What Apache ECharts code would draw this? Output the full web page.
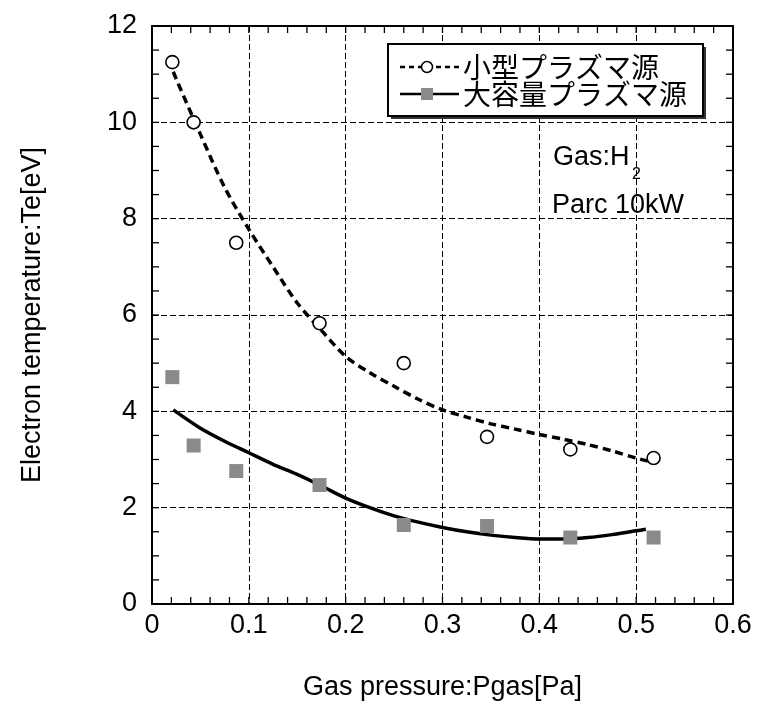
<!DOCTYPE html>
<html><head><meta charset="utf-8">
<script src="https://cdn.jsdelivr.net/npm/echarts@6/dist/echarts.min.js"></script>
<style>html,body{margin:0;padding:0;background:#fff}#c{width:758px;height:706px}</style>
</head><body><div id="c"></div>
<script>
// Measured data
const pressure = [0.021, 0.043, 0.087, 0.173, 0.26, 0.346, 0.432, 0.518];
const smallSource = [11.25, 10.0, 7.5, 5.83, 5.0, 3.47, 3.21, 3.03];
const largeSource = [4.71, 3.29, 2.76, 2.47, 1.64, 1.62, 1.38, 1.38];
// Fitted curves
const fitSmallX = [0.022, 0.025, 0.05, 0.075, 0.1, 0.125, 0.15, 0.175, 0.2, 0.225, 0.25, 0.275, 0.3, 0.325, 0.35, 0.375, 0.4, 0.425, 0.45, 0.475, 0.5, 0.512];
const fitSmallY = [11.05, 10.9, 9.75, 8.65, 7.78, 7.0, 6.25, 5.68, 5.14, 4.8, 4.52, 4.25, 4.03, 3.88, 3.74, 3.63, 3.52, 3.42, 3.31, 3.18, 3.03, 2.97];
const fitLargeX = [0.022, 0.05, 0.075, 0.1, 0.125, 0.15, 0.175, 0.2, 0.225, 0.25, 0.275, 0.3, 0.325, 0.35, 0.375, 0.4, 0.425, 0.45, 0.475, 0.5, 0.51];
const fitLargeY = [4.03, 3.65, 3.38, 3.14, 2.9, 2.69, 2.45, 2.2, 2.0, 1.83, 1.7, 1.59, 1.5, 1.43, 1.38, 1.35, 1.35, 1.38, 1.44, 1.52, 1.55];
const seriesNames = ['小型プラズマ源', '大容量プラズマ源'];
const xTitle = 'Gas pressure:Pgas[Pa]';
const yTitle = 'Electron temperature:Te[eV]';
// Tick positions (axis values)
const xTickValues = [0, 0.02, 0.04, 0.06, 0.08, 0.1, 0.12, 0.14, 0.16, 0.18, 0.2, 0.22, 0.24, 0.26, 0.28, 0.3,
  0.32, 0.34, 0.36, 0.38, 0.4, 0.42, 0.44, 0.46, 0.48, 0.5, 0.52, 0.54, 0.56, 0.58, 0.6];
const yTickValues = [0, 0.5, 1, 1.5, 2, 2.5, 3, 3.5, 4, 4.5, 5, 5.5, 6, 6.5, 7, 7.5, 8, 8.5, 9, 9.5, 10, 10.5, 11, 11.5, 12];

const zip = (a, b) => a.map((v, i) => [v, b[i]]);
const latin = 'Liberation Sans, Arial, sans-serif';
const cjk = 'Noto Sans CJK JP, sans-serif';
const TICK_LEN = 7;

const chart = echarts.init(document.getElementById('c'), null, {renderer: 'canvas'});
const line = () => ({show: true, onZero: false, lineStyle: {color: '#000', width: 2}});
const gridLine = () => ({show: true, lineStyle: {color: '#000', type: [6, 3], width: 1}});
chart.setOption({
  animation: false,
  backgroundColor: '#fff',
  grid: {left: 152, right: 25, top: 26, bottom: 101, show: false},
  xAxis: [
    {type: 'value', min: 0, max: 0.6, interval: 0.1, position: 'bottom',
      axisLine: line(), axisTick: {show: false},
      axisLabel: {color: '#000', fontFamily: latin, fontSize: 27, margin: 8,
        formatter: v => v === 0 ? '0' : String(Math.round(v * 10) / 10)},
      splitLine: gridLine(),
      name: xTitle, nameLocation: 'middle', nameGap: 70,
      nameTextStyle: {color: '#000', fontFamily: latin, fontSize: 27}},
    {type: 'value', min: 0, max: 0.6, interval: 0.1, position: 'top',
      axisLine: line(), axisTick: {show: false},
      axisLabel: {show: false}, splitLine: {show: false}}
  ],
  yAxis: [
    {type: 'value', min: 0, max: 12, interval: 2, position: 'left',
      axisLine: line(), axisTick: {show: false},
      axisLabel: {color: '#000', fontFamily: latin, fontSize: 27, margin: 15},
      splitLine: gridLine(),
      name: yTitle, nameLocation: 'middle', nameGap: 106, nameRotate: 90,
      nameTextStyle: {color: '#000', fontFamily: latin, fontSize: 27}},
    {type: 'value', min: 0, max: 12, interval: 2, position: 'right',
      axisLine: line(), axisTick: {show: false},
      axisLabel: {show: false}, splitLine: {show: false}}
  ],
  series: [
    {type: 'custom', name: 'xticks', silent: true, clip: false, z: 5,
      data: xTickValues.map(v => [v, 0]),
      renderItem: (params, api) => {
        const cs = params.coordSys;
        const x = api.coord([api.value(0), 0])[0];
        const yb = cs.y + cs.height, yt = cs.y;
        const st = {stroke: '#000', lineWidth: 1.3};
        return {type: 'group', children: [
          {type: 'line', shape: {x1: x, y1: yb, x2: x, y2: yb - TICK_LEN}, style: st},
          {type: 'line', shape: {x1: x, y1: yt, x2: x, y2: yt + TICK_LEN}, style: st}
        ]};
      }},
    {type: 'custom', name: 'yticks', silent: true, clip: false, z: 5,
      data: yTickValues.map(v => [0, v]),
      renderItem: (params, api) => {
        const cs = params.coordSys;
        const y = api.coord([0, api.value(1)])[1];
        const xl = cs.x, xr = cs.x + cs.width;
        const st = {stroke: '#000', lineWidth: 1.3};
        return {type: 'group', children: [
          {type: 'line', shape: {x1: xl, y1: y, x2: xl + TICK_LEN, y2: y}, style: st},
          {type: 'line', shape: {x1: xr, y1: y, x2: xr - TICK_LEN, y2: y}, style: st}
        ]};
      }},
    {type: 'line', name: seriesNames[0] + ' fit', data: zip(fitSmallX, fitSmallY), smooth: 0.3,
      showSymbol: false, lineStyle: {color: '#000', width: 3.5, type: [8, 5]}, z: 3},
    {type: 'line', name: seriesNames[1] + ' fit', data: zip(fitLargeX, fitLargeY), smooth: 0.3,
      showSymbol: false, lineStyle: {color: '#000', width: 3.5}, z: 3},
    {type: 'scatter', name: seriesNames[0], data: zip(pressure, smallSource), symbol: 'circle', symbolSize: 13,
      itemStyle: {color: '#fff', borderColor: '#000', borderWidth: 1.6, opacity: 1}, z: 4},
    {type: 'scatter', name: seriesNames[1], data: zip(pressure, largeSource), symbol: 'rect', symbolSize: 14,
      itemStyle: {color: '#8a8a8a', opacity: 1}, z: 4}
  ],
  graphic: [
    {type: 'rect', shape: {x: 391, y: 47, width: 315, height: 72}, style: {fill: '#333'}, z: 10},
    {type: 'rect', shape: {x: 388, y: 44, width: 315, height: 72}, style: {fill: '#fff', stroke: '#000', lineWidth: 2}, z: 11},
    {type: 'line', shape: {x1: 400, y1: 67, x2: 459, y2: 67}, style: {stroke: '#000', lineWidth: 2.5, lineDash: [5, 4]}, z: 12},
    {type: 'circle', shape: {cx: 427, cy: 67, r: 5.5}, style: {fill: '#fff', stroke: '#000', lineWidth: 1.5}, z: 13},
    {type: 'line', shape: {x1: 400, y1: 94, x2: 459, y2: 94}, style: {stroke: '#000', lineWidth: 2.5}, z: 12},
    {type: 'rect', shape: {x: 421, y: 88, width: 12, height: 12}, style: {fill: '#8a8a8a'}, z: 13},
    {type: 'text', x: 463, y: 67, style: {text: seriesNames[0], font: '28px ' + cjk, fill: '#000', textVerticalAlign: 'middle'}, z: 13},
    {type: 'text', x: 463, y: 94, style: {text: seriesNames[1], font: '28px ' + cjk, fill: '#000', textVerticalAlign: 'middle'}, z: 13},
    {type: 'text', x: 553, y: 158, style: {text: 'Gas:H', font: '27px ' + latin, fill: '#000', textVerticalAlign: 'middle'}, z: 13},
    {type: 'text', x: 632, y: 175, style: {text: '2', font: '16px ' + latin, fill: '#000', textVerticalAlign: 'middle'}, z: 13},
    {type: 'text', x: 552, y: 206, style: {text: 'Parc 10kW', font: '27px ' + latin, fill: '#000', textVerticalAlign: 'middle'}, z: 13}
  ]
});
</script></body></html>
